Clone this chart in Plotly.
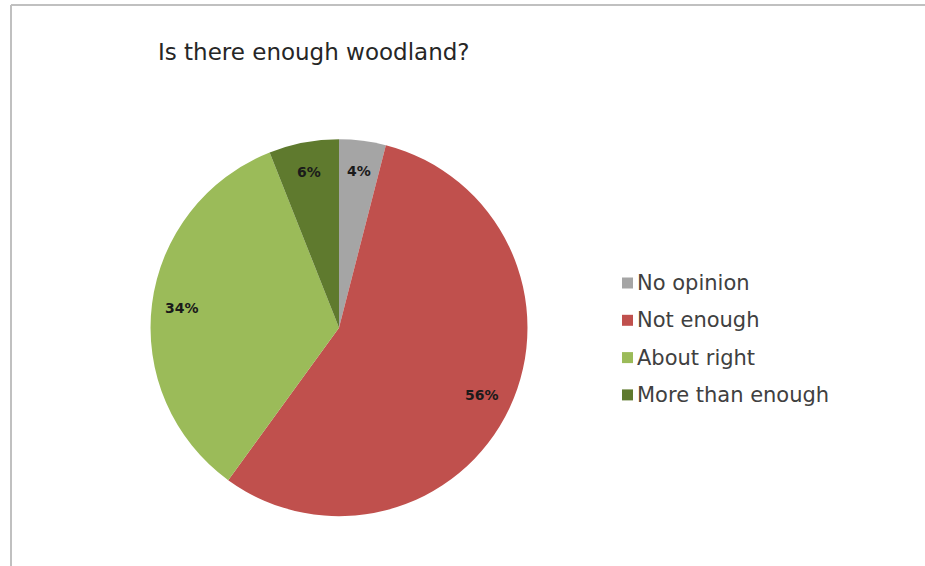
import math
import plotly.graph_objects as go

categories = ["No opinion", "Not enough", "About right", "More than enough"]
values = [4, 56, 34, 6]
colors = ["#A5A5A5", "#C0504D", "#9BBB59", "#5F7A2E"]
title_text = "Is there enough woodland?"

W, H = 925, 566
dom_x = [0.155, 0.578]
dom_y = [0.088, 0.754]
FONT = "DejaVu Sans, Lato"

fig = go.Figure(go.Pie(
    labels=categories, values=values, sort=False, direction="clockwise",
    rotation=0, marker=dict(colors=colors, line=dict(width=0)),
    textinfo="none", hoverinfo="label+percent", showlegend=False,
    domain=dict(x=dom_x, y=dom_y),
))

# pie geometry (plotly uses min of domain width/height)
wpx = (dom_x[1] - dom_x[0]) * W
hpx = (dom_y[1] - dom_y[0]) * H
R = min(wpx, hpx) / 2
cx = (dom_x[0] + dom_x[1]) / 2 * W
cy = (dom_y[0] + dom_y[1]) / 2 * H  # from bottom

annotations = []
total = sum(values)
cum = 0
for v in values:
    mid = (cum + v / 2) / total * 2 * math.pi
    cum += v
    r = 0.84 * R
    x = cx + r * math.sin(mid)
    y = cy + r * math.cos(mid)
    annotations.append(dict(
        x=x / W, y=y / H, xref="paper", yref="paper", showarrow=False,
        xanchor="center", yanchor="middle",
        text="<b>%d%%</b>" % round(v / total * 100),
        font=dict(family=FONT, size=14, color="#1a1a1a"),
    ))

annotations.append(dict(
    x=156 / W, y=1 - 52 / H, xref="paper", yref="paper", showarrow=False,
    xanchor="left", yanchor="middle", text=title_text,
    font=dict(family=FONT, size=23, color="#262626"),
))

shapes = [
    dict(type="line", xref="paper", yref="paper", x0=11 / W, x1=11 / W, y0=0, y1=1 - 5 / H,
         line=dict(color="#C0C0C0", width=2)),
    dict(type="line", xref="paper", yref="paper", x0=11 / W, x1=1, y0=1 - 5 / H, y1=1 - 5 / H,
         line=dict(color="#C0C0C0", width=2)),
]

leg_y0 = 283
leg_step = 37.3
for i, (c, col) in enumerate(zip(categories, colors)):
    yc = leg_y0 + i * leg_step
    shapes.append(dict(type="rect", xref="paper", yref="paper",
                       x0=622 / W, x1=633 / W, y0=1 - (yc + 5.5) / H, y1=1 - (yc - 5.5) / H,
                       fillcolor=col, line=dict(width=0)))
    annotations.append(dict(
        x=635 / W, y=1 - yc / H, xref="paper", yref="paper", showarrow=False,
        xanchor="left", yanchor="middle", text=c,
        font=dict(family=FONT, size=21, color="#404040"),
    ))

fig.update_layout(
    width=W, height=H, margin=dict(l=0, r=0, t=0, b=0),
    paper_bgcolor="white", plot_bgcolor="white",
    annotations=annotations, shapes=shapes,
)

fig.write_html("out.html", config={"displayModeBar": False},
               post_script="document.body.style.margin='0';")
